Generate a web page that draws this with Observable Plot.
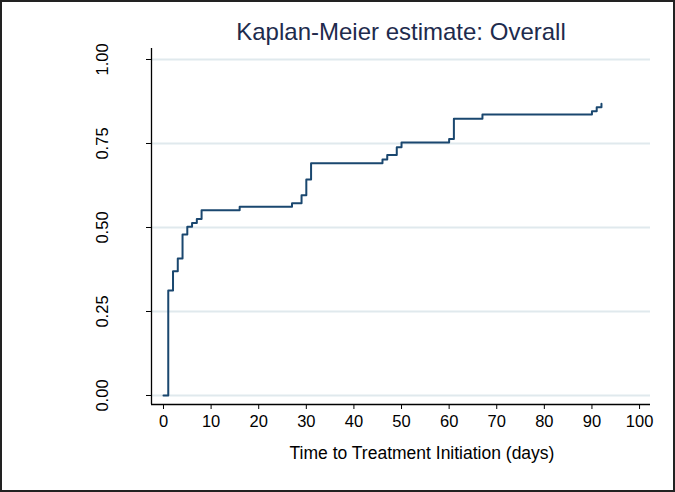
<!DOCTYPE html>
<html><head><meta charset="utf-8">
<script src="https://cdn.jsdelivr.net/npm/d3@7"></script>
<script src="https://cdn.jsdelivr.net/npm/@observablehq/plot@0.6"></script>
<style>
html,body{margin:0;padding:0;background:#fff;}
#chart svg{display:block;outline:2px solid #222;outline-offset:-2px;}
</style></head><body><div id="chart"></div>
<script>
const days    = [0, 1, 2, 3, 4, 5, 6, 7, 8, 16, 27, 29, 30, 31, 46, 47, 49, 50, 60, 61, 67, 90, 91, 92];
const failure = [0, 0.3125, 0.370, 0.408, 0.479, 0.502, 0.513, 0.525, 0.551, 0.562, 0.572, 0.596, 0.643, 0.691, 0.702, 0.716, 0.739, 0.753, 0.763, 0.8235, 0.836, 0.846, 0.858, 0.868];
const xTicks = [0, 10, 20, 30, 40, 50, 60, 70, 80, 90, 100];
const yTicks = [0, 0.25, 0.5, 0.75, 1];
const title = "Kaplan-Meier estimate: Overall";
const xLabel = "Time to Treatment Initiation (days)";

const data = days.map((d, i) => ({t: d, f: failure[i]}));
const xDom = [-2.52, 102.3];
const yDom = [-0.0268, 1.0327];

const plot = Plot.plot({
  width: 675, height: 492,
  marginLeft: 151, marginRight: 25, marginTop: 48, marginBottom: 88,
  style: {fontFamily: "'Liberation Sans', Arial, Helvetica, sans-serif", background: "#fff", color: "#000"},
  x: {domain: xDom, label: null},
  y: {domain: yDom, label: null},
  marks: [
    Plot.ruleY(yTicks, {y: d => d, stroke: "#e0e9ed", strokeWidth: 1.8}),
    Plot.ruleX([xDom[0]], {x: d => d, stroke: "#000", strokeWidth: 1.3}),
    Plot.ruleY([yDom[0]], {y: d => d, stroke: "#000", strokeWidth: 1.3}),
    Plot.axisX({ticks: xTicks, tickSize: 5, tickPadding: 6, fontSize: 16.5, tickFormat: d3.format("d"), label: null}),
    Plot.axisY({ticks: yTicks, tickSize: 5, tickPadding: 39, tickRotate: -90, fontSize: 16.5, tickFormat: d3.format(".2f"), label: null}),
    Plot.line(data, {x: "t", y: "f", curve: "step-after", stroke: "#1a476f", strokeWidth: 2}),
    Plot.text([title], {text: d => d, frameAnchor: "top", dy: -16, fontSize: 24, fill: "#1e2b4d", lineAnchor: "middle"}),
    Plot.text([xLabel], {text: d => d, frameAnchor: "bottom", dx: 21, dy: 49, fontSize: 17.5, fill: "#000", lineAnchor: "middle"})
  ]
});
document.getElementById("chart").appendChild(plot);
</script></body></html>
